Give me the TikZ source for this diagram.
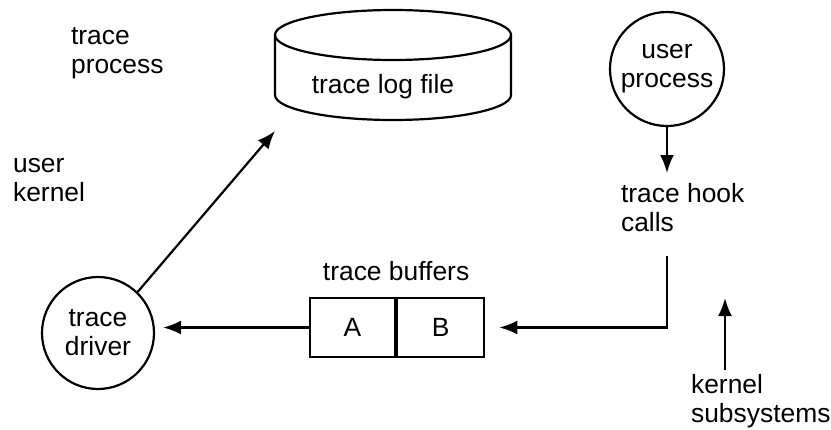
\documentclass[tikz,border=0pt]{standalone}
\usepackage{fontspec}
\setmainfont{Liberation Sans}
\usetikzlibrary{arrows.meta,positioning}

\begin{document}
\begin{tikzpicture} [
      x = 0.5pt, y = -0.5pt,
      line width = 1.1pt,
      every node/.style = { font = \fontsize{13.2}{14.5}\selectfont, inner sep = 0 },
      label/.style = { align = left, anchor = west },
      proc/.style = { draw, circle, align = center, minimum size = 56pt },
      cell/.style = { draw, minimum height = 29.5pt },
      flow/.style = { -{Latex[length = 9pt, width = 7pt]} }
      ]

      \useasboundingbox (0,0) rectangle (831,429);

      % log file drum
      \draw (393,35) ellipse [x radius = 59pt, y radius = 12.5pt];
      \draw (275,35) -- (275,95) arc [start angle = 180, end angle = 360, x radius = 59pt, y radius = 12.5pt] -- (511,35);
      \node (logfile) at (383,87) {trace log file};

      \node [label] (tracepr) at (70,53) {trace\\process};
      \node [label] (userkern) at (12,180) {user\\kernel};

      \node [proc, minimum size = 57pt] (userproc) at (667,69) {user\\process};
      \node [label] (hookcalls) at (620,208) {trace hook\\calls};

      \node [proc] (driver) at (98,333) {trace\\driver};
      \node [cell, minimum width = 42.5pt] (bufa) at (352.5,327.5) {A};
      \node [cell, minimum width = 43.5pt, right = 0 of bufa] (bufb) {B};
      \node [above = 7.5pt of bufa.north east] (buffers) {trace buffers};

      \node [label] (kernsub) at (690,401) {kernel\\subsystems};

      \coordinate (logtip) at (275,131);
      \coordinate (hooktop) at (667,173);
      \coordinate (hookout) at (667,256);
      \coordinate (kerntip) at (725,298);
      \coordinate (kernout) at (725,370);

      \draw [flow] (userproc) -- (hooktop);
      \draw [flow] (hookout) |- ([xshift = 7pt]bufb.east);
      \draw [flow, shorten >= 4pt] (bufa.west) -- (driver.east |- bufa.west);
      \draw [flow] (driver.46) -- (logtip);
      \draw [flow] (kernout) -- (kerntip);
    \end{tikzpicture}
\end{document}
